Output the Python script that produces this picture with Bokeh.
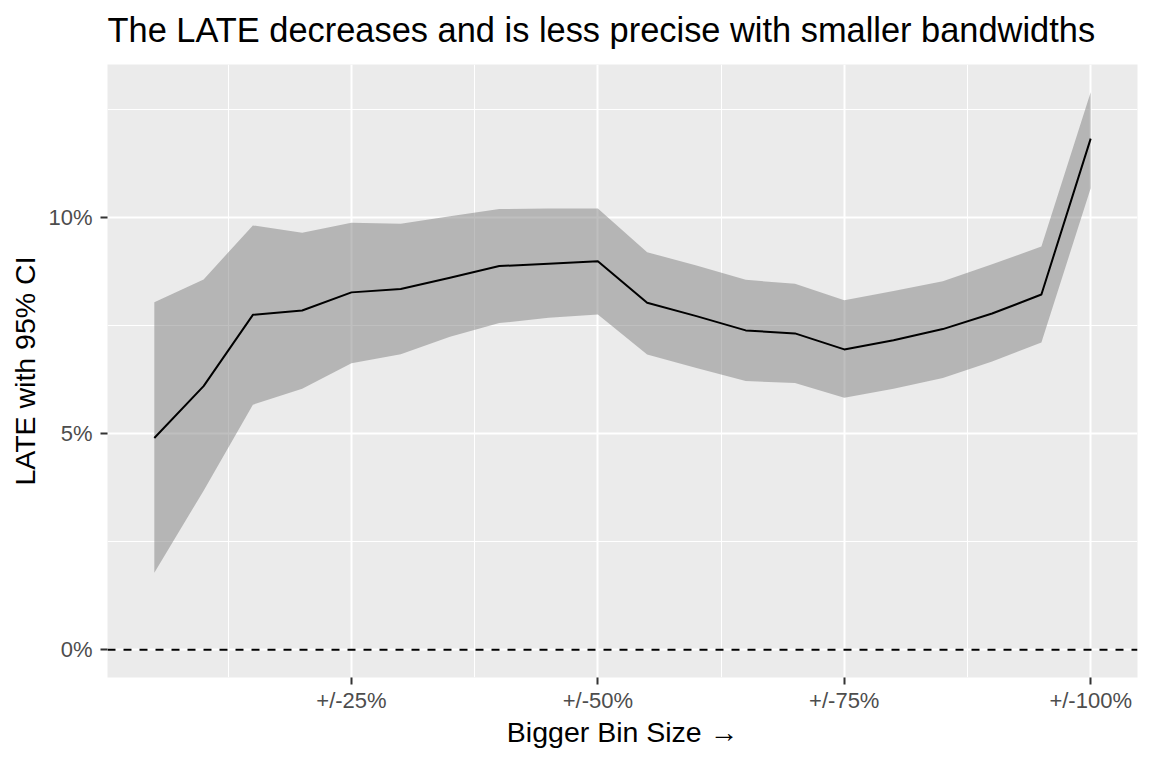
from bokeh.plotting import figure
from bokeh.models import Range1d, FixedTicker, Span, ColumnDataSource, LinearAxis
from bokeh.embed import file_html
from bokeh.resources import INLINE

# ---- data ----
bin_size = [5, 10, 15, 20, 25, 30, 35, 40, 45, 50, 55, 60, 65, 70, 75, 80, 85, 90, 95, 100]
late = [4.90, 6.10, 7.75, 7.85, 8.27, 8.35, 8.61, 8.88, 8.93, 8.99, 8.03, 7.72, 7.39, 7.32,
        6.95, 7.16, 7.42, 7.78, 8.22, 11.83]
ci_upper = [8.04, 8.57, 9.82, 9.65, 9.88, 9.86, 10.03, 10.20, 10.21, 10.21, 9.20, 8.89, 8.56,
            8.47, 8.09, 8.30, 8.53, 8.92, 9.33, 12.90]
ci_lower = [1.78, 3.68, 5.67, 6.04, 6.63, 6.84, 7.24, 7.56, 7.68, 7.76, 6.83, 6.52, 6.22,
            6.17, 5.83, 6.04, 6.29, 6.67, 7.11, 10.68]

x_tick_values = [25, 50, 75, 100]
x_tick_labels = ["+/-25%", "+/-50%", "+/-75%", "+/-100%"]
x_minor_values = [12.5, 37.5, 62.5, 87.5]
y_tick_values = [0, 5, 10]
y_tick_labels = ["0%", "5%", "10%"]
y_minor_values = [2.5, 7.5, 12.5]

title_text = "The LATE decreases and is less precise with smaller bandwidths"
x_label = "Bigger Bin Size \u2192"
y_label = "LATE with 95% CI"

# ---- ranges with ggplot-like 5% expansion ----
xmin, xmax = min(bin_size), max(bin_size)
xspan = xmax - xmin
ymin, ymax = min(0, min(ci_lower)), max(ci_upper)
yspan = ymax - ymin

src = ColumnDataSource(dict(x=bin_size, late=late, lo=ci_lower, hi=ci_upper))

FONT = "Liberation Sans"

p = figure(width=1144, height=760, output_backend="svg", toolbar_location=None,
           x_range=Range1d(xmin - 0.05 * xspan, xmax + 0.05 * xspan),
           y_range=Range1d(ymin - 0.05 * yspan, ymax + 0.05 * yspan),
           min_border_left=107, min_border_right=7, min_border_top=64, min_border_bottom=83)

xax = p.below[0]
yax = p.left[0]

p.background_fill_color = "#EBEBEB"
p.border_fill_color = "white"
p.outline_line_color = None

p.title.text = title_text
p.title.text_font = FONT
p.title.text_font_size = "34.4px"
p.title.text_font_style = "normal"
p.title.text_color = "black"
p.title.align = "left"
p.title.standoff = 0

# grids
x_ticker = FixedTicker(ticks=x_tick_values, minor_ticks=x_minor_values)
y_ticker = FixedTicker(ticks=y_tick_values, minor_ticks=y_minor_values)
xax.ticker = x_ticker
yax.ticker = y_ticker
p.xgrid.ticker = x_ticker
p.ygrid.ticker = y_ticker
for g in (p.xgrid, p.ygrid):
    g.grid_line_color = "white"
    g.grid_line_width = 2
    g.minor_grid_line_color = "white"
    g.minor_grid_line_width = 1

xax.major_label_overrides = {v: l for v, l in zip(x_tick_values, x_tick_labels)}
yax.major_label_overrides = {v: l for v, l in zip(y_tick_values, y_tick_labels)}

for ax in (xax, yax):
    ax.axis_line_color = None
    ax.major_tick_line_color = "#333333"
    ax.major_tick_line_width = 2
    ax.major_tick_in = 0
    ax.major_tick_out = 7
    ax.minor_tick_line_color = None
    ax.major_label_text_font = FONT
    ax.major_label_text_font_size = "22px"
    ax.major_label_text_color = "#4D4D4D"
    ax.axis_label_text_font = FONT
    ax.axis_label_text_font_size = "28.5px"
    ax.axis_label_text_font_style = "normal"
    ax.axis_label_text_color = "black"

xax.axis_label = x_label
yax.axis_label = y_label
xax.major_label_standoff = 3
yax.major_label_standoff = 8
xax.axis_label_standoff = 0
yax.axis_label_standoff = 4

# invisible spacer (16px) between the title and the plotting area
spacer_tick = [x_tick_values[1]]
spacer = LinearAxis(ticker=FixedTicker(ticks=spacer_tick, minor_ticks=[]),
                    axis_line_color=None, major_tick_line_color=None,
                    minor_tick_line_color=None, major_tick_in=0, major_tick_out=16,
                    minor_tick_in=0, minor_tick_out=0, major_label_standoff=0,
                    major_label_text_font_size="0px", major_label_text_alpha=0,
                    major_label_overrides={spacer_tick[0]: ""})
p.add_layout(spacer, "above")

# ribbon, zero line, estimate line
p.varea(x="x", y1="lo", y2="hi", source=src, fill_color="#7F7F7F", fill_alpha=0.5)
p.add_layout(Span(location=0, dimension="width", line_color="black",
                  line_width=2, line_dash="8 8"))
p.line(x="x", y="late", source=src, line_color="black", line_width=2, line_join="round")

open("out.html", "w").write(file_html(p, INLINE))
